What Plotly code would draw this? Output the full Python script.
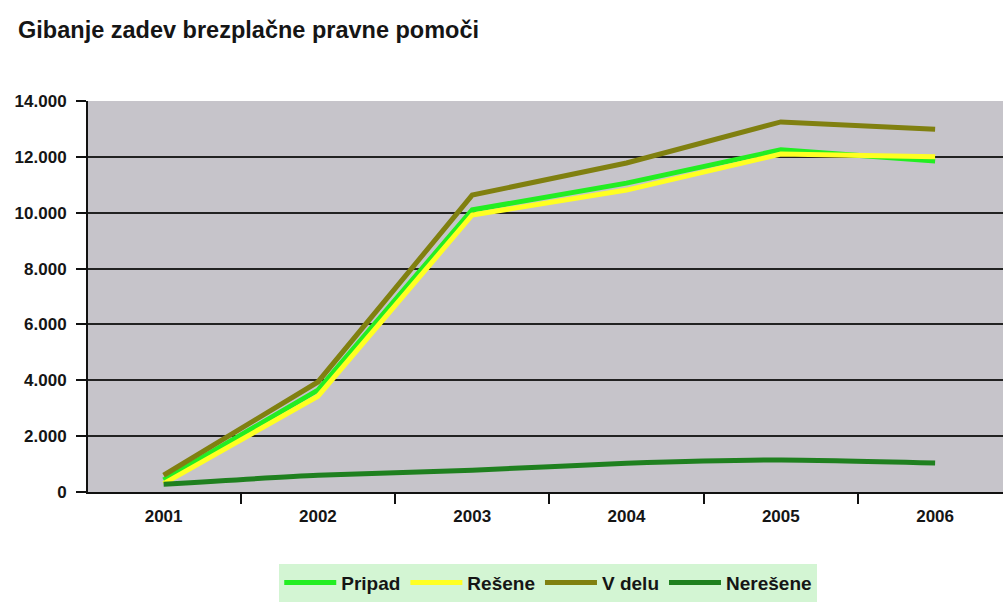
import plotly.graph_objects as go

years = ["2001", "2002", "2003", "2004", "2005", "2006"]
pripad = [430, 3650, 10100, 11060, 12250, 11850]
resene = [300, 3430, 9920, 10810, 12100, 12000]
v_delu = [600, 3940, 10630, 11780, 13250, 12990]
neresene = [280, 600, 780, 1030, 1150, 1040]

series = [
    ("Pripad", pripad, "#22EE22", "linear"),
    ("Rešene", resene, "#FFFF22", "linear"),
    ("V delu", v_delu, "#808010", "linear"),
    ("Nerešene", neresene, "#1F801F", "spline"),
]

FONT = "Liberation Sans"
TXT = "#151515"

fig = go.Figure()
for name, vals, color, shape in series:
    fig.add_trace(go.Scatter(
        x=years, y=vals, name=name, mode="lines",
        line=dict(color=color, width=5, shape=shape, smoothing=0.6),
    ))

fig.update_layout(
    width=1003, height=602,
    margin=dict(l=88, r=0, t=101, b=110),
    paper_bgcolor="white",
    plot_bgcolor="#C6C4CA",
    separators=",.",
    title=dict(
        text="Gibanje zadev brezplačne pravne pomoči",
        x=0.018, xanchor="left", y=0.951, yanchor="middle",
        font=dict(family=FONT, size=23.5, color=TXT, weight="bold"),
    ),
    showlegend=True,
    legend=dict(
        orientation="h", x=0.503, xanchor="center", y=-0.232, yanchor="middle",
        bgcolor="#D3F5D3", font=dict(family=FONT, size=19, color=TXT, weight="bold"),
        traceorder="normal", itemwidth=52,
    ),
    font=dict(family=FONT, color=TXT),
)

fig.update_xaxes(
    type="category", range=[-0.49, 5.44],
    showline=True, linecolor="#111111", linewidth=2,
    ticks="outside", tickson="boundaries", ticklen=10, tickcolor="#111111", tickwidth=1.5,
    showgrid=False,
    tickfont=dict(family=FONT, size=17, color=TXT, weight="bold"),
    ticklabelstandoff=8,
)
fig.update_yaxes(
    range=[0, 14000], tickvals=[0, 2000, 4000, 6000, 8000, 10000, 12000, 14000],
    tickformat=",d",
    showline=True, linecolor="#111111", linewidth=2,
    ticks="outside", ticklen=10, tickcolor="#111111", tickwidth=1.5,
    showgrid=True, gridcolor="#222222", gridwidth=1.5,
    zeroline=False,
    tickfont=dict(family=FONT, size=17, color=TXT, weight="bold"),
    ticklabelstandoff=6,
)

fig.write_html(
    "out.html",
    config={"displayModeBar": False},
    post_script="document.body.style.margin='0px';document.body.style.overflow='hidden';",
)
